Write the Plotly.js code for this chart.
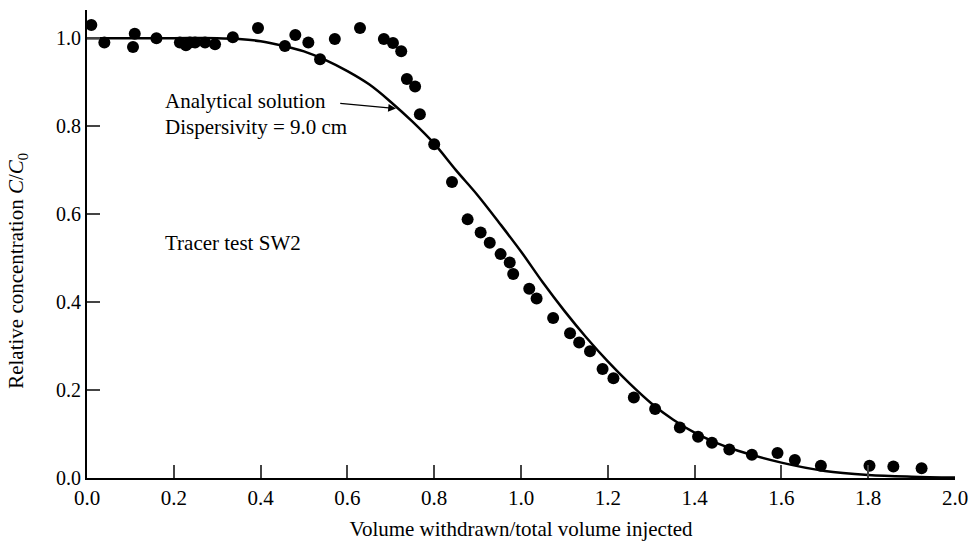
<!DOCTYPE html>
<html><head><meta charset="utf-8">
<script src="https://cdn.plot.ly/plotly-3.0.1.min.js"></script>
<style>html,body{margin:0;padding:0;background:#fff}#chart{width:973px;height:544px}</style>
</head><body><div id="chart"></div>
<script>
// Measured tracer data (SW2)
const obsX = [0.01,0.04,0.106,0.11,0.16,0.214,0.228,0.237,0.249,0.272,0.295,0.336,0.394,0.456,0.48,0.51,0.537,0.571,0.629,0.684,0.705,0.724,0.737,0.756,0.767,0.80,0.841,0.877,0.907,0.928,0.953,0.974,0.982,1.019,1.036,1.074,1.113,1.134,1.159,1.188,1.213,1.26,1.309,1.366,1.408,1.44,1.48,1.532,1.591,1.631,1.691,1.803,1.858,1.923];
const obsY = [1.03,0.99,0.98,1.01,1.0,0.99,0.984,0.99,0.99,0.99,0.986,1.002,1.023,0.982,1.007,0.99,0.952,0.998,1.023,0.998,0.989,0.97,0.907,0.89,0.827,0.759,0.673,0.588,0.558,0.535,0.509,0.49,0.464,0.43,0.408,0.364,0.329,0.308,0.288,0.248,0.227,0.183,0.157,0.115,0.094,0.08,0.065,0.053,0.057,0.041,0.028,0.028,0.026,0.022];
// Analytical solution curve
const curveX = [0,0.1,0.2,0.3,0.35,0.4,0.45,0.5,0.55,0.6,0.65,0.7,0.75,0.8,0.85,0.9,0.95,1.0,1.05,1.1,1.15,1.2,1.25,1.3,1.35,1.4,1.45,1.5,1.6,1.7,1.8,1.9,2.0];
const curveY = [1.0,1.0,1.0,1.0,0.998,0.993,0.983,0.97,0.95,0.925,0.895,0.855,0.81,0.76,0.70,0.643,0.58,0.515,0.445,0.38,0.32,0.265,0.215,0.17,0.133,0.103,0.08,0.062,0.035,0.016,0.007,0.003,0.001];
const tickVals = [0,0.2,0.4,0.6,0.8,1.0,1.2,1.4,1.6,1.8,2.0];
const yTickVals = [0,0.2,0.4,0.6,0.8,1.0];
const yTitle = 'Relative concentration <i>C</i>/<i>C</i><sub>0</sub>';

const serif = 'Liberation Serif, Times New Roman, serif';
const traces = [
  {x: curveX, y: curveY, mode: 'lines', line: {color: '#000', width: 2.5, shape: 'spline'}, hoverinfo: 'skip'},
  {x: obsX, y: obsY, mode: 'markers', marker: {color: '#000', size: 12}}
];
const layout = {
  width: 973, height: 544, showlegend: false,
  paper_bgcolor: '#fff', plot_bgcolor: '#fff',
  margin: {l: 87, r: 18, t: 10, b: 66},
  font: {family: serif, color: '#000', size: 20},
  xaxis: {range: [0, 2.0], tickvals: tickVals, tickformat: '.1f', ticks: 'inside', ticklen: 13, tickwidth: 2,
          showline: true, linewidth: 2, linecolor: '#000', showgrid: false, zeroline: false,
          tickfont: {size: 21}, automargin: false,
          title: {text: 'Volume withdrawn/total volume injected', font: {size: 21}, standoff: 12}},
  yaxis: {range: [0, 1.064], tickvals: yTickVals, tickformat: '.1f', ticks: 'inside', ticklen: 13, tickwidth: 2,
          showline: true, linewidth: 2, linecolor: '#000', showgrid: false, zeroline: false,
          tickfont: {size: 20}, automargin: false},
  annotations: [
    {x: -0.08, y: 0.47, xref: 'paper', yref: 'y', text: yTitle, textangle: -90, showarrow: false,
     xanchor: 'center', yanchor: 'middle', font: {size: 21}},
    {x: 0.175, y: 0.856, xref: 'x', yref: 'y', text: 'Analytical solution', showarrow: false, xanchor: 'left', yanchor: 'middle', font: {size: 21}},
    {x: 0.175, y: 0.797, xref: 'x', yref: 'y', text: 'Dispersivity = 9.0 cm', showarrow: false, xanchor: 'left', yanchor: 'middle', font: {size: 21}},
    {x: 0.175, y: 0.535, xref: 'x', yref: 'y', text: 'Tracer test SW2', showarrow: false, xanchor: 'left', yanchor: 'middle', font: {size: 21}},
    {x: 0.712, y: 0.84, xref: 'x', yref: 'y', ax: 0.58, ay: 0.852, axref: 'x', ayref: 'y', text: '', showarrow: true,
     arrowhead: 2, arrowsize: 1.2, arrowwidth: 1.3, arrowcolor: '#000'}
  ]
};
Plotly.newPlot('chart', traces, layout, {staticPlot: true, displayModeBar: false});
</script></body></html>
